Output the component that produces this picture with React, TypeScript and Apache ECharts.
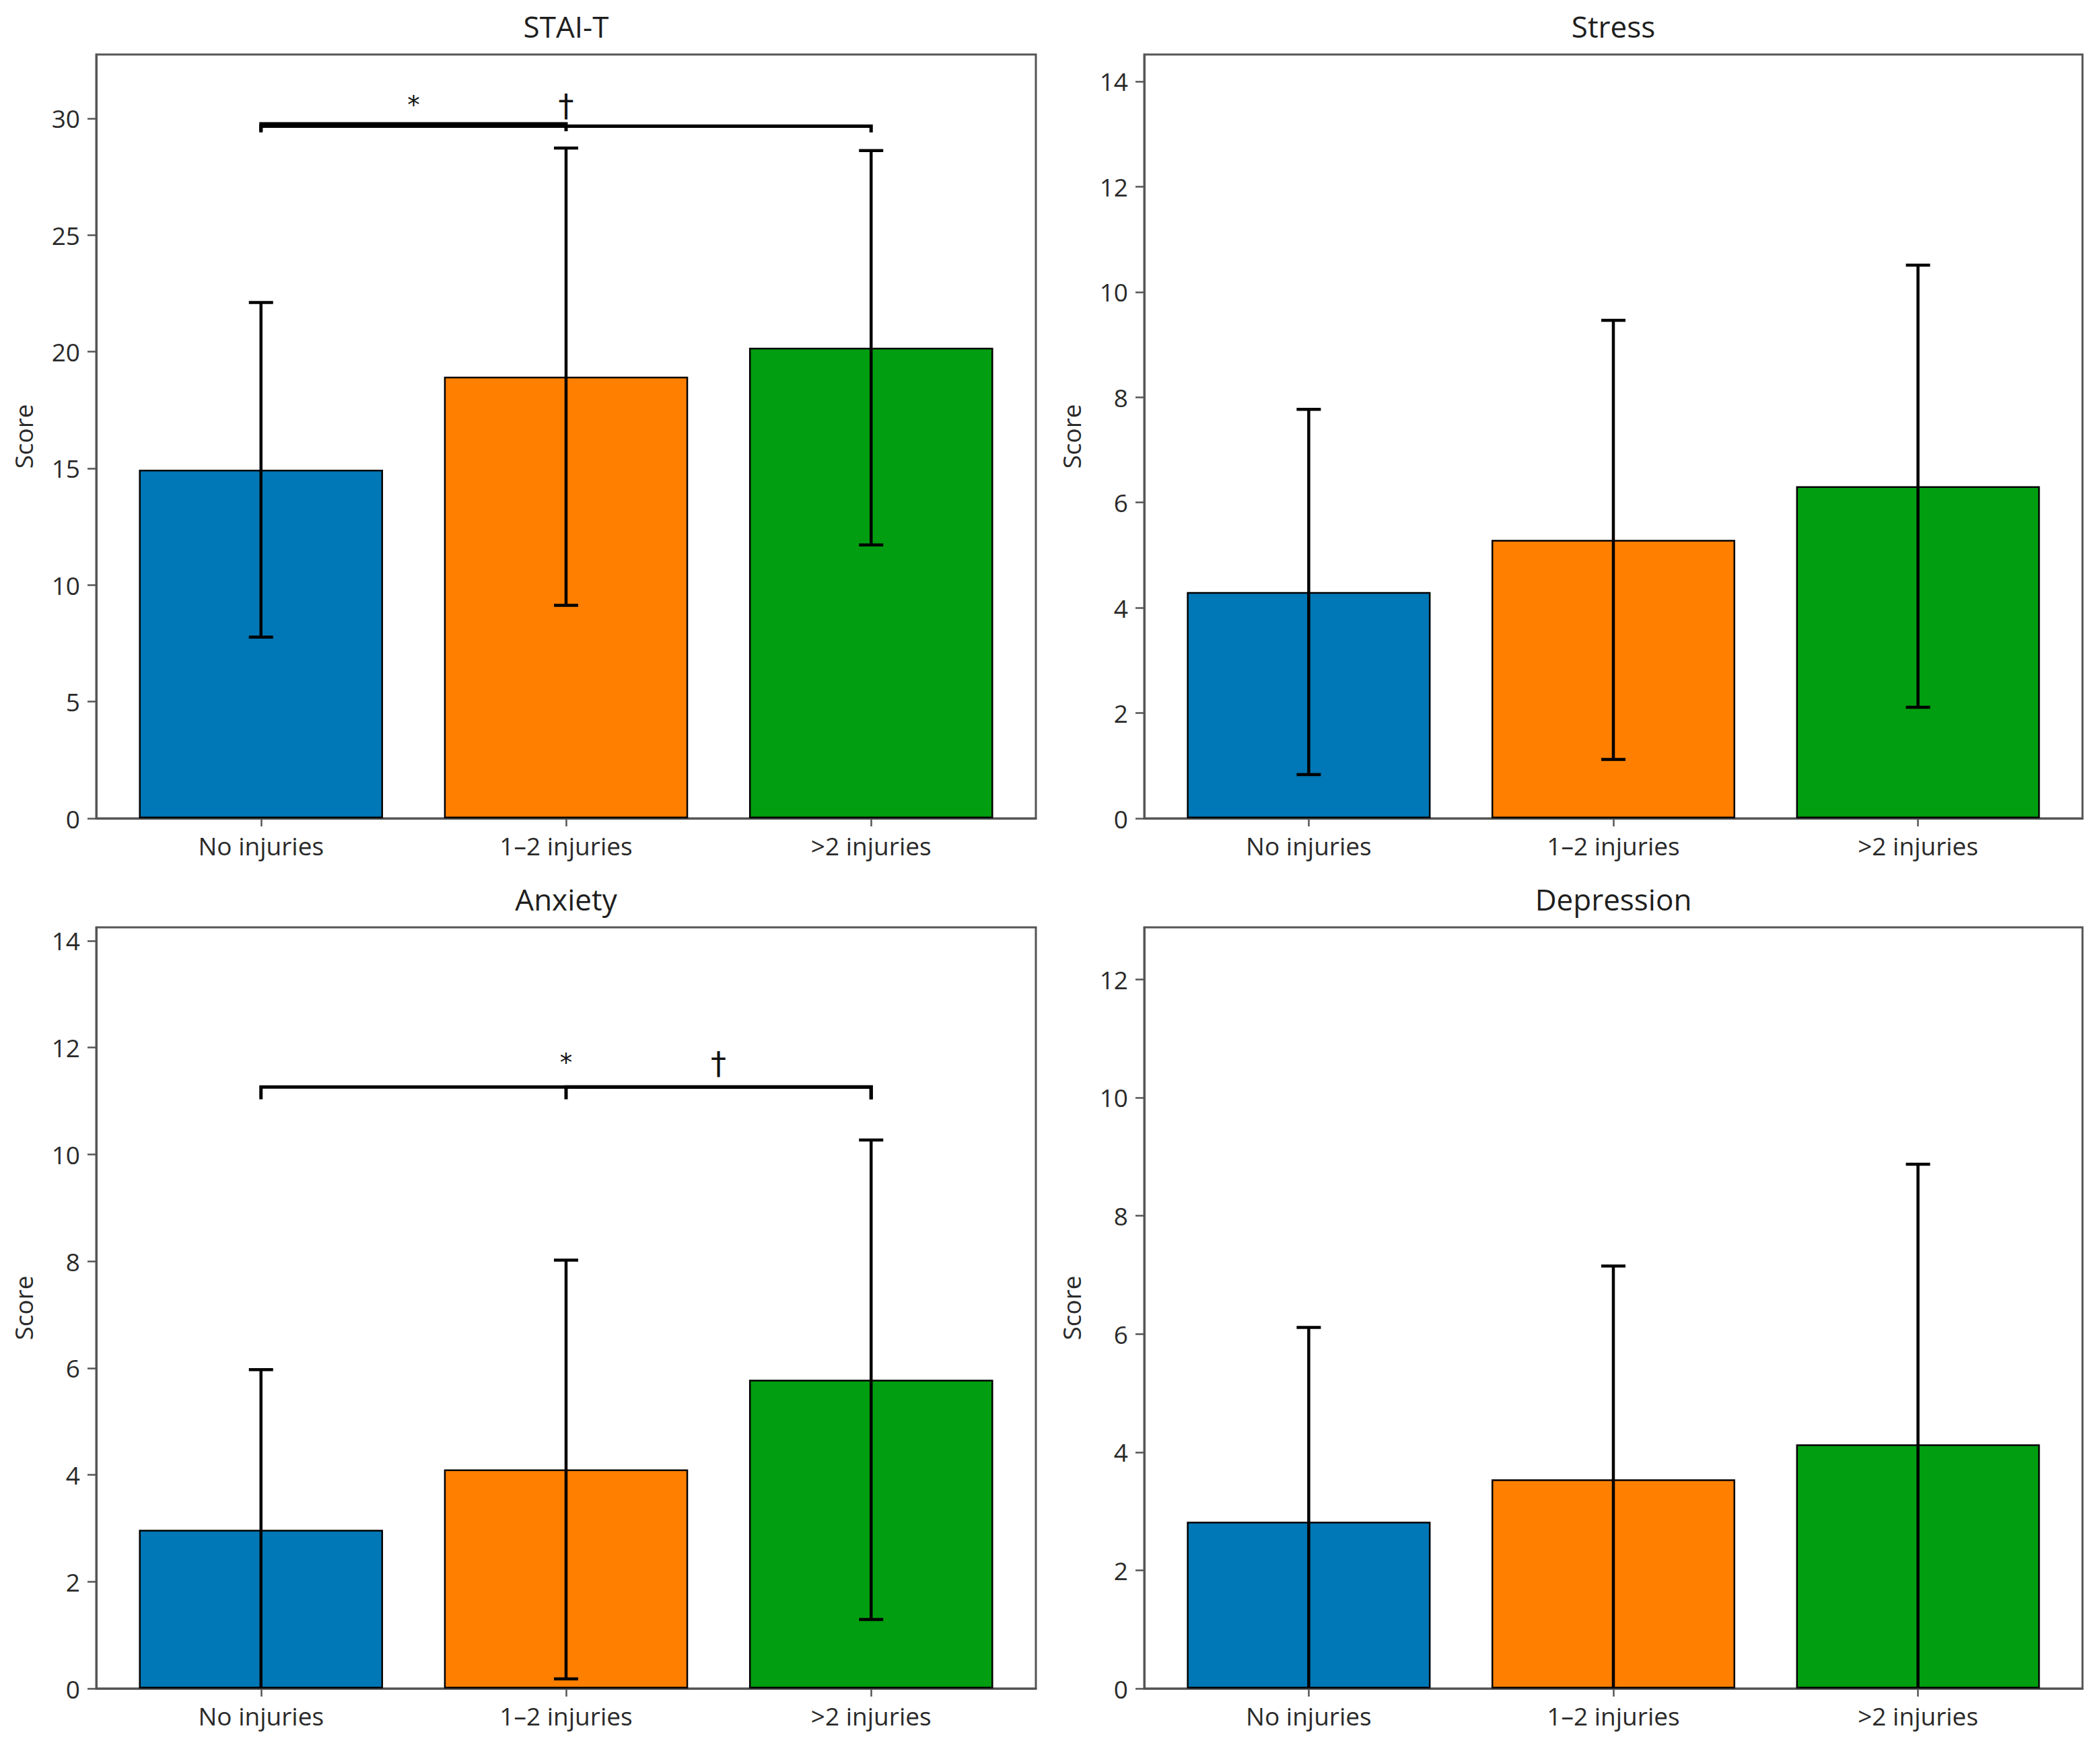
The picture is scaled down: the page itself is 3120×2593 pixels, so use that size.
import React, { useEffect, useRef } from "react";
import * as echarts from "echarts";

const categories = ["No injuries", "1–2 injuries", ">2 injuries"];
const barColors = ["#0077b6", "#ff7f00", "#009e10"];
const panelTitles = ["STAI-T", "Stress", "Anxiety", "Depression"];

const staiMeans = [14.94, 18.93, 20.17];
const staiSDs = [7.17, 9.8, 8.45];
const stressMeans = [4.3, 5.29, 6.31];
const stressSDs = [3.47, 4.17, 4.2];
const anxietyMeans = [2.97, 4.1, 5.78];
const anxietySDs = [3.0, 3.92, 4.49];
const depressionMeans = [2.82, 3.54, 4.13];
const depressionSDs = [3.29, 3.61, 4.74];

const staiTicks = [0, 5, 10, 15, 20, 25, 30];
const stressTicks = [0, 2, 4, 6, 8, 10, 12, 14];
const anxietyTicks = [0, 2, 4, 6, 8, 10, 12, 14];
const depressionTicks = [0, 2, 4, 6, 8, 10, 12];
const yMaxes = [32.74, 14.51, 14.25, 12.88];
const xTicks = [0, 1, 2];

const staiBrackets = [
  { from: 0, to: 1, y: 29.77, drop: 0.32, label: "*" },
  { from: 0, to: 2, y: 29.67, drop: 0.27, label: "†" },
];
const staiBracketTextY = 30.56;
const anxietyBrackets = [
  { from: 0, to: 2, y: 11.26, drop: 0.23, label: "*" },
  { from: 1, to: 2, y: 11.26, drop: 0.23, label: "†" },
];
const anxietyBracketTextY = 11.71;

const FONT = "'Open Sans', 'Noto Sans', sans-serif";
const SYMBOL_FONT = "'DejaVu Sans', sans-serif";
const SYMBOL_SIZES: Record<string, number> = { "*": 37, "†": 46 };
const W = 3120;
const H = 2593;
const GRIDS = [
  { left: 143, top: 81, width: 1396, height: 1135 },
  { left: 1700, top: 81, width: 1394, height: 1135 },
  { left: 143, top: 1378, width: 1396, height: 1131 },
  { left: 1700, top: 1378, width: 1394, height: 1131 },
];
const X_MIN = -0.54;
const X_MAX = 2.54;
const FRAME = "#555555";
const TEXT = "#2a2a2a";

const panels = [
  { means: staiMeans, sds: staiSDs, ticks: staiTicks, brackets: staiBrackets, textY: staiBracketTextY },
  { means: stressMeans, sds: stressSDs, ticks: stressTicks, brackets: [], textY: 0 },
  { means: anxietyMeans, sds: anxietySDs, ticks: anxietyTicks, brackets: anxietyBrackets, textY: anxietyBracketTextY },
  { means: depressionMeans, sds: depressionSDs, ticks: depressionTicks, brackets: [], textY: 0 },
];

function buildOption() {
  const grid: any[] = [];
  const xAxis: any[] = [];
  const yAxis: any[] = [];
  const series: any[] = [];
  const title: any[] = [];

  panels.forEach((p, i) => {
    const g = GRIDS[i];
    grid.push({
      left: g.left,
      top: g.top,
      width: g.width,
      height: g.height,
      show: true,
      borderColor: FRAME,
      borderWidth: 3,
      backgroundColor: "transparent",
      containLabel: false,
    });
    xAxis.push({
      type: "value",
      gridIndex: i,
      min: X_MIN,
      max: X_MAX,
      splitLine: { show: false },
      axisLine: { show: true, onZero: false, lineStyle: { color: FRAME, width: 3 } },
      axisTick: {
        show: true,
        customValues: xTicks,
        length: 12,
        lineStyle: { color: FRAME, width: 2.5 },
      },
      axisLabel: {
        show: true,
        customValues: xTicks,
        formatter: (v: number) => categories[Math.round(v)] ?? "",
        fontSize: 37,
        fontFamily: FONT,
        color: TEXT,
        margin: 22,
      },
    });
    yAxis.push({
      type: "value",
      gridIndex: i,
      min: 0,
      max: yMaxes[i],
      name: "Score",
      nameLocation: "middle",
      nameGap: 90,
      nameTextStyle: { fontSize: 37, fontFamily: FONT, color: TEXT },
      splitLine: { show: false },
      axisLine: { show: true, onZero: false, lineStyle: { color: FRAME, width: 3 } },
      axisTick: {
        show: true,
        customValues: p.ticks,
        length: 13,
        lineStyle: { color: FRAME, width: 2.5 },
      },
      axisLabel: {
        show: true,
        customValues: p.ticks,
        fontSize: 37,
        fontFamily: FONT,
        color: TEXT,
        margin: 24,
      },
    });
    title.push({
      text: panelTitles[i],
      left: g.left + g.width / 2,
      top: g.top - 64,
      textAlign: "center",
      padding: 0,
      textStyle: { fontSize: 44, fontWeight: "normal", color: "#1e1e1e", fontFamily: FONT },
    });

    const barWidth = (0.8 * g.width) / (X_MAX - X_MIN);
    series.push({
      type: "bar",
      xAxisIndex: i,
      yAxisIndex: i,
      barWidth,
      z: 2,
      data: p.means.map((m, k) => ({
        value: [k, m],
        itemStyle: { color: barColors[k], borderColor: "#000", borderWidth: 2.5 },
      })),
    });

    series.push({
      type: "custom",
      xAxisIndex: i,
      yAxisIndex: i,
      z: 5,
      data: p.means.map((m, k) => [k, m - p.sds[k], m + p.sds[k]]),
      renderItem: (params: any, api: any) => {
        const x = api.value(0);
        const lo = api.value(1);
        const hi = api.value(2);
        const top = api.coord([x, hi]);
        const bot = api.coord([x, lo]);
        const cs = params.coordSys;
        const floor = cs.y + cs.height;
        const clipped = bot[1] > floor;
        const by = clipped ? floor : bot[1];
        const cap = 18;
        const st = { stroke: "#000", lineWidth: 4.5 };
        const children: any[] = [
          { type: "line", shape: { x1: top[0], y1: top[1], x2: top[0], y2: by }, style: st },
          { type: "line", shape: { x1: top[0] - cap, y1: top[1], x2: top[0] + cap, y2: top[1] }, style: st },
        ];
        if (!clipped) {
          children.push({
            type: "line",
            shape: { x1: bot[0] - cap, y1: bot[1], x2: bot[0] + cap, y2: bot[1] },
            style: st,
          });
        }
        return { type: "group", children };
      },
    });

    if (p.brackets.length) {
      const br = p.brackets;
      series.push({
        type: "custom",
        xAxisIndex: i,
        yAxisIndex: i,
        z: 6,
        data: br.map((b) => [b.from, b.to, b.y, b.y - b.drop, (b.from + b.to) / 2, p.textY]),
        renderItem: (params: any, api: any) => {
          const x1 = api.value(0);
          const x2 = api.value(1);
          const yt = api.value(2);
          const yd = api.value(3);
          const tx = api.value(4);
          const ty = api.value(5);
          const a = api.coord([x1, yd]);
          const b = api.coord([x1, yt]);
          const c = api.coord([x2, yt]);
          const d = api.coord([x2, yd]);
          const t = api.coord([tx, ty]);
          const label = br[params.dataIndex].label;
          return {
            type: "group",
            children: [
              {
                type: "polyline",
                shape: { points: [a, b, c, d] },
                style: { stroke: "#000", lineWidth: 5, fill: "none" },
              },
              {
                type: "text",
                x: t[0],
                y: t[1],
                style: {
                  text: label,
                  fontSize: SYMBOL_SIZES[label] ?? 37,
                  fontFamily: SYMBOL_FONT,
                  fill: "#111",
                  align: "center",
                  verticalAlign: "middle",
                },
              },
            ],
          };
        },
      });
    }
  });

  return {
    animation: false,
    backgroundColor: "#ffffff",
    title,
    grid,
    xAxis,
    yAxis,
    series,
  };
}

export default function App() {
  const ref = useRef<HTMLDivElement>(null);
  useEffect(() => {
    if (!ref.current) return;
    const chart = echarts.init(ref.current, null, { renderer: "svg" });
    chart.setOption(buildOption() as any);
    return () => chart.dispose();
  }, []);
  return (
    <div
      ref={ref}
      style={{ position: "absolute", left: 0, top: 0, width: W, height: H, background: "#fff" }}
    />
  );
}
